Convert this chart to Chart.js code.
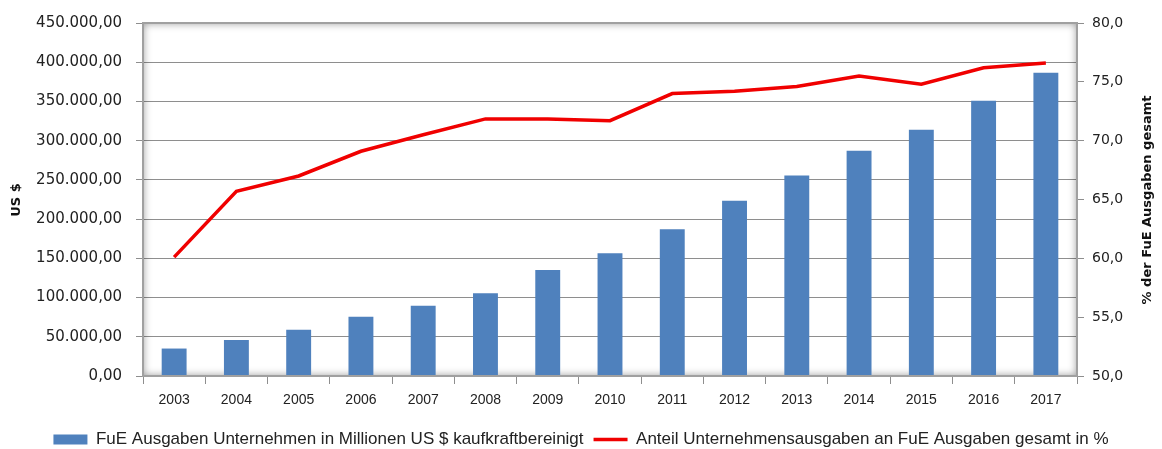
<!DOCTYPE html>
<html lang="de">
<head>
  <meta charset="UTF-8" />
  <title>FuE Ausgaben Unternehmen</title>
  <script src="https://cdn.jsdelivr.net/npm/chart.js"></script>
  <style>
    html, body {
      margin: 0;
      padding: 0;
      background: #ffffff;
    }
    #wrap {
      width: 1162px;
      height: 449px;
    }
  </style>
</head>
<body>
  <div id="wrap"><canvas id="fueChart" width="1162" height="449"></canvas></div>

  <script>
    // Werte
    const jahre = ["2003", "2004", "2005", "2006", "2007", "2008", "2009", "2010",
                   "2011", "2012", "2013", "2014", "2015", "2016", "2017"];
    const ausgaben = [35000, 46000, 59000, 75500, 89500, 105500, 135000, 156500,
                      187000, 223500, 255500, 287000, 314000, 351000, 386500];
    const anteil = [60.1, 65.7, 67.0, 69.1, 70.5, 71.85, 71.85, 71.7,
                    74.0, 74.2, 74.6, 75.5, 74.8, 76.2, 76.6];

    const labelBalken = "FuE Ausgaben Unternehmen in Millionen US $ kaufkraftbereinigt";
    const labelLinie = "Anteil Unternehmensausgaben an FuE Ausgaben gesamt in %";
    const titelLinks = "US $";
    const titelRechts = "% der FuE Ausgaben gesamt";

    const blau = "#4f81bd";
    const rot = "#f00000";
    const gitter = "#8e8e8e";

    function deZahl(v, stellen) {
      const s = v.toFixed(stellen);
      const teile = s.split(".");
      const ganz = teile[0].replace(/\B(?=(\d{3})+(?!\d))/g, ".");
      return teile[1] ? ganz + "," + teile[1] : ganz;
    }

    // Rahmen mit innerem Schatten wie im Excel-Original
    const rahmenPlugin = {
      id: "rahmen",
      afterLayout(chart) {
        // Legende etwas nach unten schieben
        if (chart.legend) {
          chart.legend.top += 9;
          chart.legend.bottom += 9;
        }
      },
      beforeDatasetsDraw(chart) {
        const a = chart.chartArea;
        const ctx = chart.ctx;
        ctx.save();
        ctx.beginPath();
        ctx.rect(a.left, a.top, a.right - a.left, a.bottom - a.top);
        ctx.clip();
        ctx.shadowColor = "rgba(0,0,0,0.45)";
        ctx.shadowBlur = 9;
        ctx.lineWidth = 12;
        ctx.strokeStyle = "#9a9a9a";
        ctx.strokeRect(a.left - 6, a.top - 6, a.right - a.left + 12, a.bottom - a.top + 12);
        ctx.restore();
      },
      afterDatasetsDraw(chart) {
        const a = chart.chartArea;
        const ctx = chart.ctx;
        ctx.save();
        ctx.lineWidth = 2;
        ctx.strokeStyle = "#a0a0a0";
        ctx.strokeRect(a.left, a.top, a.right - a.left, a.bottom - a.top);
        ctx.restore();
      },
      afterDraw(chart) {
        const ctx = chart.ctx;
        ctx.save();
        ctx.fillStyle = "#111";
        ctx.font = "bold 13px 'DejaVu Sans'";
        ctx.textAlign = "center";
        ctx.textBaseline = "middle";
        ctx.translate(17, 200);
        ctx.rotate(-Math.PI / 2);
        ctx.fillText(titelLinks, 0, 0);
        ctx.restore();

        ctx.save();
        ctx.fillStyle = "#111";
        ctx.font = "bold 13px 'DejaVu Sans'";
        ctx.textAlign = "center";
        ctx.textBaseline = "middle";
        ctx.translate(1148, 200);
        ctx.rotate(-Math.PI / 2);
        ctx.fillText(titelRechts, 0, 0);
        ctx.restore();
      }
    };

    const ctx = document.getElementById("fueChart").getContext("2d");
    const chart = new Chart(ctx, {
      type: "bar",
      data: {
        labels: jahre,
        datasets: [
          {
            type: "bar",
            label: labelBalken,
            data: ausgaben,
            backgroundColor: blau,
            borderWidth: 0,
            yAxisID: "y",
            barPercentage: 0.4,
            categoryPercentage: 1.0,
            pointStyle: "rect",
            order: 1
          },
          {
            type: "line",
            label: labelLinie,
            data: anteil,
            borderColor: rot,
            backgroundColor: rot,
            borderWidth: 3.5,
            pointRadius: 0,
            pointStyle: "line",
            tension: 0,
            yAxisID: "y2",
            order: 0
          }
        ]
      },
      options: {
        responsive: false,
        animation: false,
        layout: {
          padding: { top: 23, left: 0, right: 0, bottom: 0 }
        },
        plugins: {
          title: { display: false },
          tooltip: { enabled: false },
          legend: {
            position: "bottom",
            labels: {
              usePointStyle: true,
              pointStyleWidth: 34,
              boxHeight: 10,
              padding: 10,
              color: "#222",
              font: { family: "'Liberation Sans'", size: 17 },
              sort: (a, b) => a.datasetIndex - b.datasetIndex
            }
          }
        },
        scales: {
          x: {
            offset: true,
            grid: {
              offset: true,
              drawOnChartArea: false,
              drawTicks: true,
              tickLength: 8,
              color: gitter
            },
            border: { display: false },
            ticks: {
              padding: 8,
              color: "#222",
              font: { family: "'Liberation Sans'", size: 14 },
              maxRotation: 0,
              autoSkip: false
            },
            afterFit: s => { s.height = 36; }
          },
          y: {
            position: "left",
            min: 0,
            max: 450000,
            grid: {
              color: gitter,
              tickLength: 7
            },
            border: { display: false },
            ticks: {
              stepSize: 50000,
              padding: 14,
              color: "#222",
              font: { family: "'DejaVu Sans'", size: 15 },
              callback: v => deZahl(v, 2)
            },
            afterFit: s => { s.width = 143; }
          },
          y2: {
            position: "right",
            min: 50,
            max: 80,
            grid: {
              drawOnChartArea: false,
              color: gitter,
              tickLength: 7
            },
            border: { display: false },
            ticks: {
              stepSize: 5,
              padding: 8,
              color: "#222",
              font: { family: "'DejaVu Sans'", size: 14 },
              callback: v => deZahl(v, 1)
            },
            afterFit: s => { s.width = 85; }
          }
        }
      },
      plugins: [rahmenPlugin]
    });
  </script>
</body>
</html>
